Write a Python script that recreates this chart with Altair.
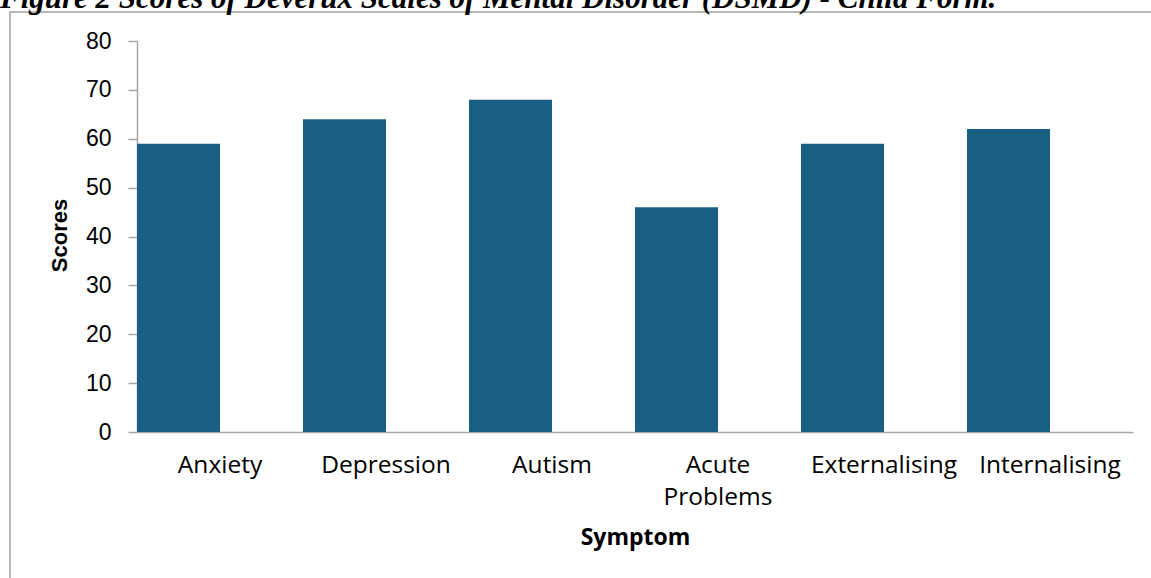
import altair as alt
import pandas as pd

categories = ["Anxiety", "Depression", "Autism", "Acute Problems", "Externalising", "Internalising"]
scores = [59, 64, 68, 46, 59, 62]
y_ticks = [0, 10, 20, 30, 40, 50, 60, 70, 80]
title_text = "Figure 2 Scores of Deverux Scales of Mental Disorder (DSMD) - Child Form."

df = pd.DataFrame({"Symptom": categories, "Scores": scores})

W, H = 996, 391
PAD_L, PAD_T = 137, 41

bars = alt.Chart(df).mark_bar(
    width=alt.RelativeBandSize(0.5), xOffset=-41.5, color="#195E83"
).encode(
    x=alt.X(
        "Symptom:N",
        sort=categories,
        scale=alt.Scale(paddingInner=0, paddingOuter=0),
        axis=alt.Axis(
            title="Symptom",
            labelAngle=0,
            ticks=False,
            labelPadding=21,
            labelFont="Open Sans",
            labelFontSize=24.5,
            labelColor="#000000",
            labelBaseline="top",
            labelLineHeight=32,
            labelExpr="datum.label == 'Acute Problems' ? ['Acute', 'Problems'] : datum.label",
            domainColor="#A6A6A6",
            domainWidth=1.5,
            titleFont="Open Sans",
            titleFontSize=23,
            titleFontWeight="bold",
            titleColor="#000000",
            titleX=W / 2,
            titleY=544 - PAD_T - H,
            titleAlign="center",
            titleBaseline="alphabetic",
        ),
    ),
    y=alt.Y(
        "Scores:Q",
        scale=alt.Scale(domain=[0, 80], nice=False),
        axis=alt.Axis(
            title="Scores",
            values=y_ticks,
            grid=False,
            tickSize=9,
            tickColor="#A6A6A6",
            tickWidth=1.5,
            domainColor="#A6A6A6",
            domainWidth=1.5,
            labelFont="Liberation Sans",
            labelFontSize=23,
            labelColor="#000000",
            labelPadding=17,
            titleFont="Liberation Sans",
            titleFontSize=22,
            titleFontWeight="bold",
            titleColor="#000000",
            titleAngle=-90,
            titleX=59 - PAD_L,
            titleY=235 - PAD_T,
            titleAlign="center",
            titleBaseline="middle",
        ),
    ),
)

frame = alt.Chart(pd.DataFrame({"k": [0]})).mark_rect(
    fill=None, stroke="#A0A0A0", strokeWidth=1.5
).encode(
    x=alt.value(10 - PAD_L),
    x2=alt.value(1160 - PAD_L),
    y=alt.value(12 - PAD_T),
    y2=alt.value(590 - PAD_T),
)

title = alt.Chart(pd.DataFrame({"t": [title_text]})).mark_text(
    font="Liberation Serif",
    fontSize=31,
    fontWeight="bold",
    fontStyle="italic",
    align="left",
    baseline="alphabetic",
    color="#000000",
).encode(
    text="t:N",
    x=alt.value(0 - PAD_L),
    y=alt.value(8 - PAD_T),
)

chart = alt.layer(frame, bars, title).properties(
    width=W,
    height=H,
    autosize=alt.AutoSizeParams(type="none"),
    padding={"left": PAD_L, "top": PAD_T, "right": 1151 - PAD_L - W, "bottom": 578 - PAD_T - H},
    background="white",
).configure_view(stroke=None)

chart.save("out.html", embed_options={"renderer": "svg", "actions": False})
